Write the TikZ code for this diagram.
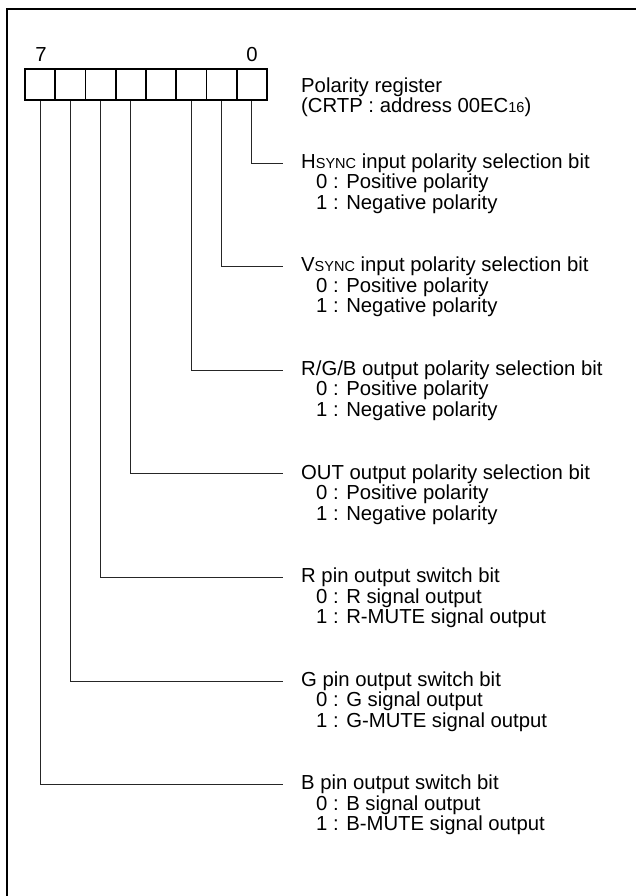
\documentclass[tikz,border=0pt]{standalone}
\usepackage{fontspec}
\setmainfont{Liberation Sans}
\newcommand{\smc}[1]{{\fontsize{14.5}{14.5}\selectfont #1}}
\begin{document}
\begin{tikzpicture}[x=1pt,y=-1pt,
  cell/.style={draw,line width=1.6pt,minimum width=30.25pt,minimum height=31pt,inner sep=0pt},
  leader/.style={line width=0.8pt,draw=black!85},
  txt/.style={anchor=west,inner sep=0pt,font=\fontsize{20.3}{22}\selectfont},
  head/.style={anchor=west,inner ysep=0pt,inner xsep=18pt,font=\fontsize{20.3}{22}\selectfont},
  frame/.style={line width=2pt}]
\useasboundingbox (0,0) rectangle (636,896);
\draw[frame] (7,900) -- (7,9.5) -- (640,9.5);
% register cells, bit 7 on the left
\foreach \i in {0,...,7}{
  \node[cell] (b\i) at ({25+30.25*(7-\i)+15.125},84.5) {};
}
\node[txt,anchor=center] (l7) at (41,55) {7};
\node[txt,anchor=center] (l0) at (252,55) {0};
\node[txt] (reg1) at (301,87) {Polarity register};
\node[txt] (reg2) at (301,107.5) {(CRTP : address 00EC\smc{16})};
% bit descriptions
\def\dy{103.6}
\foreach \b/\k/\h/\za/\zb in {
  0/0/{H\smc{SYNC} input polarity selection bit}/{0 : Positive polarity}/{1 : Negative polarity},
  1/1/{V\smc{SYNC} input polarity selection bit}/{0 : Positive polarity}/{1 : Negative polarity},
  2/2/{R/G/B output polarity selection bit}/{0 : Positive polarity}/{1 : Negative polarity},
  4/3/{OUT output polarity selection bit}/{0 : Positive polarity}/{1 : Negative polarity},
  5/4/{R pin output switch bit}/{0 : R signal output}/{1 : R-MUTE signal output},
  6/5/{G pin output switch bit}/{0 : G signal output}/{1 : G-MUTE signal output},
  7/6/{B pin output switch bit}/{0 : B signal output}/{1 : B-MUTE signal output}}{
  \node[head] (h\b) at (283,{163+\dy*\k}) {\h};
  \node[txt] (z\b) at (316,{163+\dy*\k+20.5}) {\za};
  \node[txt] (o\b) at (316,{163+\dy*\k+41}) {\zb};
  \draw[leader] (b\b.south) |- (h\b.west);
}
\end{tikzpicture}
\end{document}
